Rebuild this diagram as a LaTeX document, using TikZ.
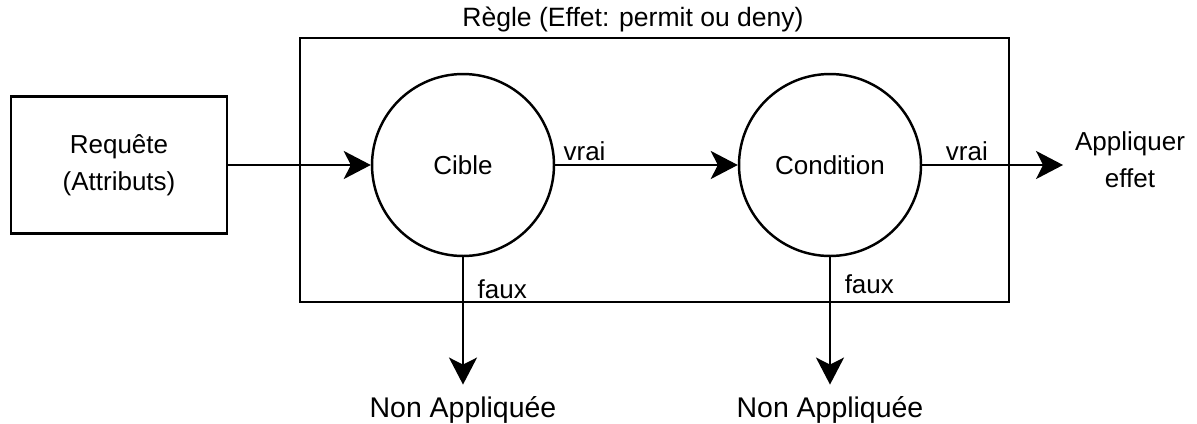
\documentclass[tikz,border=0pt]{standalone}
\usepackage{fontspec}
\setmainfont{Liberation Sans}
\usepackage{tikz}
\usetikzlibrary{arrows.meta}
\usetikzlibrary{positioning}

\begin{document}
\begin{tikzpicture}[x=0.02cm, y=-0.02cm, line width=1.4pt,
	every node/.style={font=\fontsize{14.8}{21}\selectfont},
	box/.style={draw, rectangle, minimum width=4.32cm, minimum height=2.74cm, align=center},
	test/.style={draw, circle, minimum size=3.64cm, inner sep=0pt},
	outtxt/.style={align=center, outer sep=3.5pt},
	lab/.style={inner sep=2pt},
	fleche/.style={-{Stealth[length=5.4mm, width=5.6mm, inset=1.4mm]}}]
	\useasboundingbox (0,0) rectangle (1197,423);
%	\draw [help lines] (0,0) grid (1197,423);
	\node [draw, minimum width=14.18cm, minimum height=5.28cm] (regle) at (654.5,170) {};
	\node [font=\fontsize{15.1}{18}\selectfont] (titre) at (633,19) {Règle (Effet: permit ou deny)};
	\node [box] (req) at (119,165) {Requête\\(Attributs)};
	\node [test] (cible) at (463,165) {Cible};
	\node [test] (cond) at (830,165) {Condition};
	\node [outtxt] (appl) at (1130,160) {Appliquer\\effet};
	\node [outtxt, font=\fontsize{16.2}{19}\selectfont] (nonA) at (463,410) {Non Appliquée};
	\node [outtxt, font=\fontsize{16.2}{19}\selectfont] (nonB) at (830,410) {Non Appliquée};
	\draw [fleche] (req) -- (cible);
	\draw [fleche] (cible) -- node [lab, pos=0.02, anchor=south west] {vrai} (cond);
	\draw [fleche] (cond) -- node [lab, pos=0.135, anchor=south west] {vrai} (cond -| appl.west);
	\draw [fleche] (cible) -- node [lab, pos=0.25, right=2mm] {faux} (nonA);
	\draw [fleche] (cond) -- node [lab, pos=0.21, right=2mm] {faux} (nonB);
\end{tikzpicture}
\end{document}
